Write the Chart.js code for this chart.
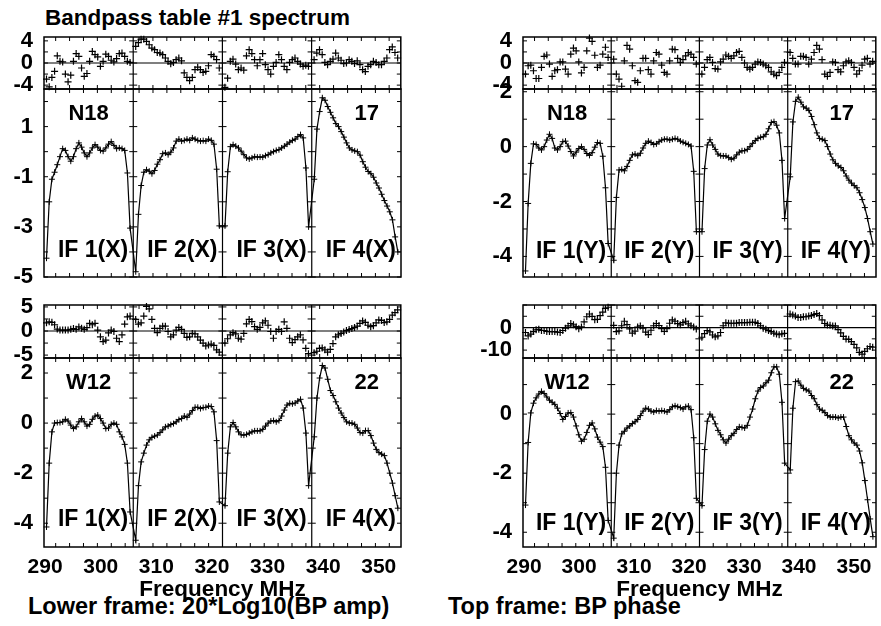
<!DOCTYPE html>
<html>
<head>
<meta charset="utf-8">
<script src="https://cdn.jsdelivr.net/npm/chart.js@4.4.1/dist/chart.umd.min.js"></script>
<style>
  html, body { margin: 0; padding: 0; background: #fff; overflow: hidden; }
  body { width: 881px; height: 626px; position: relative;
         font-family: "Liberation Sans", Arial, Helvetica, sans-serif; font-weight: bold; }
  canvas { position: absolute; }
  .txt { position: absolute; font-size: 22.5px; line-height: 26px; white-space: nowrap; color: #000; }
  .cap { font-size: 23.5px; }
</style>
</head>
<body>
<div class="txt" style="left:45px; top:5px;">Bandpass table #1 spectrum</div>
<div class="txt cap" style="left:28px; top:593px;">Lower frame: 20*Log10(BP amp)</div>
<div class="txt cap" style="left:448px; top:593px;">Top frame: BP phase</div>
<script>
// IF layout (MHz) and channel grid
const ifStartMHz = [289.8, 305.85, 321.9, 337.95];
const bandEndMHz = 354.0;
const chanFirst = 0.45;
const chanWidth = 0.485;
const nChan = 32;

const freqTicks = [290, 300, 310, 320, 330, 340, 350];
const ifLabelsX = ['IF 1(X)', 'IF 2(X)', 'IF 3(X)', 'IF 4(X)'];
const ifLabelsY = ['IF 1(Y)', 'IF 2(Y)', 'IF 3(Y)', 'IF 4(Y)'];

// tick labels per frame
const phaseTicksN18 = [-4, 0, 4];
const ampTicksN18X = [-5, -3, -1, 1];
const ampTicksN18Y = [-4, -2, 0, 2];
const phaseTicksW12X = [-5, 0, 5];
const phaseTicksW12Y = [-10, 0];
const ampTicksW12X = [-4, -2, 0, 2];
const ampTicksW12Y = [-4, -2, 0];

// 20*log10(amp), one row per IF
const ampN18X = [
  [-4.25, -2.0, -1.1, -0.82, -0.52, -0.2, 0.12, 0.05, -0.2, -0.38, -0.2, 0.12, 0.35, 0.18, -0.05, -0.2, -0.05, 0.15, 0.28, 0.18, 0.05, 0.02, 0.15, 0.3, 0.4, 0.25, 0.12, 0.15, 0.12, 0.05, -0.85, -3.05],
  [-4.79, -2.5, -1.35, -0.82, -0.72, -0.78, -0.88, -0.75, -0.5, -0.32, -0.08, -0.05, -0.12, -0.02, 0.15, 0.42, 0.5, 0.42, 0.45, 0.5, 0.45, 0.55, 0.5, 0.45, 0.42, 0.44, 0.42, 0.5, 0.45, 0.3, -0.7, -2.96],
  [-2.96, -0.8, 0.2, 0.28, 0.22, 0.15, 0.02, -0.12, -0.25, -0.29, -0.25, -0.2, -0.22, -0.21, -0.22, -0.16, -0.12, -0.05, 0.0, 0.05, 0.08, 0.15, 0.22, 0.3, 0.38, 0.45, 0.5, 0.6, 0.68, 0.55, -0.65, -3.0],
  [-1.1, 0.9, 1.6, 2.15, 2.05, 1.8, 1.57, 1.35, 1.12, 1.0, 0.8, 0.58, 0.35, 0.15, 0.07, 0.03, 0.0, -0.14, -0.4, -0.62, -0.79, -0.88, -1.02, -1.25, -1.45, -1.7, -1.95, -2.17, -2.4, -2.72, -3.4, -4.0]
];
const ampN18Y = [
  [-4.53, -2.07, -0.61, 0.1, 0.08, -0.05, -0.12, 0.0, 0.24, 0.45, 0.3, -0.05, -0.12, 0.0, 0.18, 0.2, 0.02, -0.18, -0.34, -0.2, -0.07, 0.0, -0.1, -0.25, -0.32, -0.22, -0.02, 0.15, 0.12, -0.35, -1.5, -3.53],
  [-4.14, -1.85, -0.85, -0.83, -0.88, -0.72, -0.5, -0.3, -0.27, -0.33, -0.24, -0.05, 0.12, 0.2, 0.15, 0.08, 0.1, 0.18, 0.24, 0.27, 0.27, 0.24, 0.27, 0.3, 0.27, 0.2, 0.16, 0.12, 0.08, 0.02, -0.9, -3.1],
  [-3.1, -0.8, 0.06, 0.25, 0.06, -0.1, -0.27, -0.33, -0.34, -0.34, -0.4, -0.46, -0.42, -0.3, -0.2, -0.15, -0.15, -0.1, 0.0, 0.12, 0.22, 0.3, 0.34, 0.36, 0.45, 0.65, 0.88, 0.91, 0.78, 0.5, -0.5, -2.62],
  [-1.1, 0.9, 1.65, 1.8, 1.62, 1.45, 1.4, 1.32, 1.1, 0.8, 0.5, 0.3, 0.27, 0.22, 0.0, -0.27, -0.48, -0.61, -0.7, -0.76, -0.88, -1.07, -1.22, -1.33, -1.42, -1.5, -1.68, -1.93, -2.22, -2.62, -3.1, -3.55]
];
const ampW12X = [
  [-4.15, -1.6, -0.35, 0.0, 0.02, 0.02, 0.05, 0.15, 0.08, -0.08, -0.22, -0.15, 0.05, 0.18, 0.05, -0.12, -0.05, 0.15, 0.28, 0.32, 0.18, 0.0, -0.22, -0.2, -0.05, 0.0, -0.05, -0.35, -0.55, -0.85, -1.6, -3.55],
  [-4.68, -2.5, -1.55, -1.2, -0.88, -0.67, -0.57, -0.52, -0.48, -0.38, -0.27, -0.15, -0.12, -0.06, -0.02, 0.05, 0.14, 0.18, 0.28, 0.23, 0.36, 0.5, 0.63, 0.63, 0.58, 0.62, 0.63, 0.68, 0.66, 0.45, -0.7, -3.15],
  [-3.3, -1.2, -0.15, 0.02, -0.15, -0.35, -0.47, -0.48, -0.45, -0.4, -0.35, -0.31, -0.31, -0.31, -0.25, -0.12, 0.0, 0.08, 0.1, 0.05, 0.1, 0.28, 0.52, 0.72, 0.79, 0.77, 0.8, 0.88, 0.95, 0.6, -0.4, -2.5],
  [-0.55, 1.0, 1.8, 2.3, 2.2, 1.75, 1.3, 1.1, 0.85, 0.6, 0.4, 0.22, 0.05, 0.0, 0.0, -0.05, -0.2, -0.38, -0.4, -0.3, -0.3, -0.5, -0.8, -1.05, -1.18, -1.24, -1.3, -1.6, -2.0, -2.4, -2.9, -3.4]
];
const ampW12Y = [
  [-3.08, -0.96, 0.04, 0.37, 0.55, 0.68, 0.77, 0.7, 0.58, 0.47, 0.4, 0.33, 0.2, 0.02, -0.18, -0.08, 0.04, 0.05, -0.1, -0.4, -0.7, -0.92, -0.85, -0.62, -0.38, -0.3, -0.5, -0.78, -0.95, -1.1, -1.8, -3.6],
  [-4.2, -2.0, -1.05, -0.67, -0.58, -0.47, -0.4, -0.32, -0.26, -0.18, -0.05, 0.1, 0.2, 0.17, 0.1, 0.07, 0.12, 0.1, 0.12, 0.1, 0.07, 0.15, 0.25, 0.28, 0.25, 0.22, 0.17, 0.25, 0.27, 0.15, -0.8, -2.85],
  [-3.1, -1.2, -0.24, 0.0, -0.1, -0.33, -0.55, -0.7, -0.87, -0.98, -0.85, -0.73, -0.65, -0.52, -0.43, -0.45, -0.47, -0.38, -0.1, 0.17, 0.52, 0.78, 0.9, 0.95, 1.06, 1.15, 1.4, 1.6, 1.6, 1.35, 0.4, -1.66],
  [-1.89, 0.2, 1.1, 1.12, 0.98, 0.87, 0.82, 0.78, 0.63, 0.52, 0.32, 0.17, 0.13, 0.05, -0.05, -0.1, -0.1, -0.1, -0.13, -0.1, -0.1, -0.42, -0.73, -0.87, -0.98, -1.05, -1.25, -1.65, -2.25, -2.9, -3.55, -4.15]
];

// BP phase (deg), one row per IF
const phaseN18X = [
  [-2.9, -4.3, -2.6, -1.5, 1.3, 0.3, 0.2, -2.0, -3.4, -2.2, 0.3, 1.7, 1.2, -0.9, -2.4, -1.9, 0.3, 2.1, 1.5, 1.1, -0.6, 0.3, 1.6, 1.2, 0.5, 0.2, 0.8, 1.7, 1.8, 1.2, 0.3, 0.1],
  [3.0, 3.7, 4.3, 4.3, 3.9, 3.3, 2.7, 2.4, 1.9, 1.8, 1.5, 0.9, 0.3, -0.15, 0.1, 0.6, 0.9, 0.4, -1.8, -2.6, -3.2, -2.6, -1.2, -0.75, -1.2, -1.7, -1.5, -0.5, 1.5, 1.2, 0.6, -0.9],
  [-4.4, -2.75, 0.3, 0.7, -0.2, -1.2, -0.9, -1.3, 1.3, 2.4, 1.7, 0.6, -0.5, 0.6, 1.7, -0.3, -1.2, -2.0, -0.6, 0.1, 1.5, 0.6, -0.6, -1.2, 0.1, 0.6, 0.9, 0.3, -0.2, -0.6, -0.4, -0.6],
  [0.6, 1.8, 2.4, 1.5, 0.1, -0.3, 0.3, 0.7, 1.8, 0.9, 0.5, -0.1, 0.0, 0.6, 0.3, -0.1, 0.4, -0.3, -1.2, -1.55, -0.6, -0.3, 0.3, 0.1, -0.3, -0.3, 0.3, 0.9, 2.4, 2.9, 1.9, 0.9]
];
const phaseN18Y = [
  [-2.0, -0.5, -0.4, -1.4, -2.8, -2.8, -0.8, 1.2, 1.45, -0.2, -2.4, -1.4, -1.2, 0.2, 0.2, -1.1, -2.0, 1.6, 2.7, 2.2, 0.2, -1.8, -0.8, 2.2, 4.5, 3.9, 1.4, -0.8, -0.4, 1.6, 2.85, 1.0],
  [0.7, -2.0, -2.9, -4.2, 0.4, 3.2, 2.5, -0.5, -3.2, -3.5, -1.4, 0.85, 0.85, -1.2, -2.0, 0.4, 1.9, 1.6, -0.4, -1.7, -2.0, 0.4, 2.5, 2.4, 0.85, 0.1, 0.6, 1.3, 1.9, 1.6, 1.0, -0.2],
  [-2.0, -0.8, 0.6, 1.0, 0.1, -1.0, -1.1, 0.2, 0.7, 1.45, 1.2, 0.85, 1.3, 1.9, 2.1, 1.0, 0.0, -0.8, -1.1, -0.8, -0.2, 0.2, 0.1, -0.2, -0.5, -0.8, -1.6, -2.0, -2.3, -1.7, -0.8, 0.1],
  [1.9, 0.85, -0.2, -0.2, 1.2, 1.2, 1.0, -0.2, 0.7, 1.9, 3.2, 2.5, 0.6, -2.0, -2.4, -1.7, 0.2, 0.1, -1.2, -1.6, -0.5, 0.2, 0.4, 0.1, -0.8, -2.0, -1.4, -0.4, 0.7, 0.85, -0.2, 0.3]
];
const phaseW12X = [
  [1.7, 1.9, 1.8, 1.3, 0.4, 0.2, 0.2, 0.2, 0.2, 0.35, 0.5, 0.35, 0.85, 0.6, 0.35, 0.7, 1.6, 1.3, 1.6, 0.2, -1.2, -2.2, -1.9, -0.4, 0.2, -0.1, -1.5, -2.2, -0.8, 1.45, 2.95, 3.1],
  [2.4, 1.45, 1.7, 3.1, 5.1, 4.6, 2.4, 0.55, -0.35, 0.55, 1.0, 1.0, -0.1, -1.2, -0.8, 0.2, 0.75, 0.35, -0.5, -1.3, -1.2, -0.5, -0.6, -1.2, -1.9, -2.5, -3.1, -2.9, -2.7, -3.0, -3.9, -4.4],
  [-2.5, -1.6, -0.8, -0.35, -0.6, -1.5, -1.7, -0.5, 1.5, 2.4, 1.95, 0.9, 0.35, 0.75, 1.7, 2.1, 1.2, -0.1, -1.5, -0.1, 0.35, -0.1, 1.9, 0.55, -1.5, -2.4, -1.8, -1.2, -0.8, -1.85, -3.6, -4.7],
  [-4.5, -4.2, -3.6, -3.5, -3.9, -4.4, -3.8, -2.6, -1.2, -0.8, -0.5, -0.2, 0.1, 0.3, 0.5, 0.75, 1.0, 1.6, 2.1, 1.8, 1.2, 0.9, 1.1, 1.7, 2.3, 2.2, 1.75, 1.9, 2.4, 3.3, 3.8, 4.4]
];
const phaseW12Y = [
  [-2.2, -3.7, -2.9, -1.8, -1.0, -0.8, -1.3, -1.3, -1.7, -1.8, -1.8, -1.8, -2.0, -2.2, -1.3, -0.3, 0.7, 1.8, 1.2, 0.4, -0.5, 0.3, 2.5, 4.8, 6.0, 5.0, 3.5, 3.6, 5.3, 6.8, 8.5, 9.0],
  [1.0, -1.8, -1.5, 0.8, 2.8, 1.3, -0.6, -2.5, -1.6, 0.2, 0.7, -0.3, -2.0, -3.1, -1.2, 0.8, 1.8, 0.9, -0.5, -1.7, -0.5, 1.9, 3.4, 2.8, 1.8, 1.2, 2.2, 2.8, 1.6, 0.8, 0.2, -0.6],
  [-4.3, -2.7, -1.3, -1.9, -3.3, -4.1, -3.7, -2.2, 0.8, 2.1, 1.9, 1.9, 1.9, 1.9, 2.2, 2.2, 2.2, 2.2, 2.3, 2.3, 2.3, 1.8, 0.8, -0.3, -0.7, -1.3, -1.8, -2.5, -2.9, -3.2, -2.8, -2.6],
  [6.0, 5.6, 5.1, 4.5, 4.5, 4.8, 4.8, 5.1, 5.3, 5.8, 6.2, 5.3, 3.4, 1.8, 1.1, 1.0, 0.7, 0.7, -0.9, -2.4, -3.9, -5.1, -5.2, -6.2, -7.5, -9.0, -11.0, -11.8, -10.6, -9.4, -8.4, -8.7]
];

// channel frequencies
const chanMHz = ifStartMHz.map(s => Array.from({ length: nChan }, (_, i) => s + chanFirst + i * chanWidth));

function toPoints(rows) {
    return rows.flatMap((row, k) => row.map((v, i) => ({ x: chanMHz[k][i], y: v })));
}

// frame layout (page pixels) and axis ranges
const frames = [
    { left: 44, right: 402, top: 37, bottom: 89, min: -4.7, max: 4.7, minor: 2, ticks: phaseTicksN18, values: phaseN18X, phase: true },
    { left: 44, right: 402, top: 89, bottom: 277, min: -5, max: 2.5, minor: 1, ticks: ampTicksN18X, values: ampN18X,
      ant: 'N18', num: '17', ifs: ifLabelsX, drop: 26 },
    { left: 523, right: 880, top: 37, bottom: 89, min: -4.7, max: 4.7, minor: 2, ticks: phaseTicksN18, values: phaseN18Y, phase: true },
    { left: 523, right: 880, top: 89, bottom: 277, min: -4.75, max: 2.1, minor: 1, ticks: ampTicksN18Y, values: ampN18Y,
      ant: 'N18', num: '17', ifs: ifLabelsY, drop: 25 },
    { left: 44, right: 402, top: 305, bottom: 358, min: -5.6, max: 5.4, minor: 2.5, ticks: phaseTicksW12X, values: phaseW12X, phase: true },
    { left: 44, right: 402, top: 358, bottom: 547, min: -4.95, max: 2.6, minor: 1, ticks: ampTicksW12X, values: ampW12X,
      ant: 'W12', num: '22', ifs: ifLabelsX, drop: 27, showX: true },
    { left: 523, right: 880, top: 305, bottom: 358, min: -13.5, max: 10, minor: 5, ticks: phaseTicksW12Y, values: phaseW12Y, phase: true },
    { left: 523, right: 880, top: 358, bottom: 547, min: -4.5, max: 1.9, minor: 1, ticks: ampTicksW12Y, values: ampW12Y,
      ant: 'W12', num: '22', ifs: ifLabelsY, drop: 23, showX: true }
];

const FONT = '"Liberation Sans", Arial, Helvetica, sans-serif';
Chart.defaults.font.family = FONT;
Chart.defaults.color = '#000';

// frame box, IF dividers, inward ticks and panel labels
const frameDecor = {
    id: 'frameDecor',
    afterDatasetsDraw(chart, args, opts) {
        const f = opts.frame;
        const { ctx, chartArea: a } = chart;
        const x = chart.scales.x, y = chart.scales.y;
        ctx.save();
        ctx.strokeStyle = '#000';
        ctx.lineWidth = 1.5;
        ctx.strokeRect(a.left, a.top, a.right - a.left, a.bottom - a.top);

        ctx.lineWidth = 1.2;
        ctx.beginPath();
        ifStartMHz.slice(1).forEach(s => {
            const px = x.getPixelForValue(s);
            ctx.moveTo(px, a.top);
            ctx.lineTo(px, a.bottom);
        });
        if (f.phase) {
            const py = y.getPixelForValue(0);
            ctx.moveTo(a.left, py);
            ctx.lineTo(a.right, py);
        }
        ctx.stroke();

        ctx.lineWidth = 1;
        ctx.beginPath();
        for (let m = 291.9; m < x.max; m += 2.5) {
            const px = x.getPixelForValue(m);
            ctx.moveTo(px, a.top); ctx.lineTo(px, a.top + 4);
            ctx.moveTo(px, a.bottom); ctx.lineTo(px, a.bottom - 4);
        }
        const edges = [x.min, ...ifStartMHz.slice(1), x.max].map(v => x.getPixelForValue(v));
        for (let v = Math.ceil(y.min / f.minor) * f.minor; v <= y.max; v += f.minor) {
            const py = y.getPixelForValue(v);
            edges.forEach((px, k) => {
                const l = k === 0 ? 0 : 4;
                const r = k === edges.length - 1 ? 0 : 4;
                ctx.moveTo(px - l, py);
                ctx.lineTo(px + r, py);
            });
        }
        ctx.stroke();

        if (f.ant) {
            ctx.fillStyle = '#000';
            ctx.textBaseline = 'middle';
            ctx.font = 'bold 22px ' + FONT;
            ctx.textAlign = 'center';
            const c1 = (x.getPixelForValue(ifStartMHz[0]) + x.getPixelForValue(ifStartMHz[1])) / 2;
            ctx.fillText(f.ant, c1, a.top + 25);
            ctx.textAlign = 'right';
            ctx.fillText(f.num, a.right - 22, a.top + 25);
            ctx.font = 'bold 23px ' + FONT;
            f.ifs.forEach((t, k) => {
                const end = k < 3 ? ifStartMHz[k + 1] : x.max;
                ctx.fillText(t, x.getPixelForValue(end) - 5, a.bottom - f.drop);
            });
        }
        ctx.restore();
    }
};

function crearFrame(f) {
    const axisW = 44;
    const pad = 26;
    const padRight = f.left > 440 ? 1 : 4;
    const axisH = 56;
    const cLeft = f.left - axisW;
    const cTop = f.top - pad;
    const width = f.right - cLeft + padRight;
    const height = (f.bottom - cTop) + (f.showX ? axisH : pad);

    const canvas = document.createElement('canvas');
    canvas.width = width;
    canvas.height = height;
    canvas.style.left = cLeft + 'px';
    canvas.style.top = cTop + 'px';
    canvas.style.width = width + 'px';
    canvas.style.height = height + 'px';
    document.body.appendChild(canvas);

    const dataset = f.phase
        ? { data: toPoints(f.values), showLine: false, pointStyle: 'cross', pointRadius: 3.5,
            pointBorderWidth: 1.2, pointBorderColor: '#000', borderColor: '#000', clip: false }
        : { data: toPoints(f.values), showLine: true, borderColor: '#000', borderWidth: 1.2, tension: 0,
            pointStyle: 'cross', pointRadius: 3, pointBorderWidth: 1, pointBorderColor: '#000', clip: false };

    return new Chart(canvas.getContext('2d'), {
        type: 'scatter',
        data: { datasets: [dataset] },
        options: {
            responsive: false,
            maintainAspectRatio: false,
            animation: false,
            devicePixelRatio: 1,
            events: [],
            layout: { padding: { top: pad, left: 0, right: padRight, bottom: f.showX ? 0 : pad } },
            plugins: {
                legend: { display: false },
                tooltip: { enabled: false },
                frameDecor: { frame: f }
            },
            scales: {
                x: {
                    type: 'linear',
                    min: ifStartMHz[0],
                    max: bandEndMHz,
                    display: !!f.showX,
                    grid: { display: false, drawTicks: false },
                    border: { display: false },
                    afterBuildTicks: s => { s.ticks = freqTicks.map(v => ({ value: v })); },
                    afterFit: s => { if (f.showX) s.height = axisH; },
                    ticks: { font: { size: 21, weight: 'bold' }, padding: 8, maxRotation: 0, autoSkip: false,
                             color: '#000', callback: v => String(v) },
                    title: { display: true, text: 'Frequency MHz', font: { size: 22.5, weight: 'bold' },
                             padding: 0, color: '#000' }
                },
                y: {
                    type: 'linear',
                    min: f.min,
                    max: f.max,
                    grid: { display: false, drawTicks: false },
                    border: { display: false },
                    afterBuildTicks: s => { s.ticks = f.ticks.map(v => ({ value: v })); },
                    afterFit: s => { s.width = axisW; },
                    ticks: { font: { size: 22, weight: 'bold' }, padding: 11, color: '#000', autoSkip: false,
                             callback: v => String(v) }
                }
            }
        },
        plugins: [frameDecor]
    });
}

frames.forEach(crearFrame);
</script>
</body>
</html>
